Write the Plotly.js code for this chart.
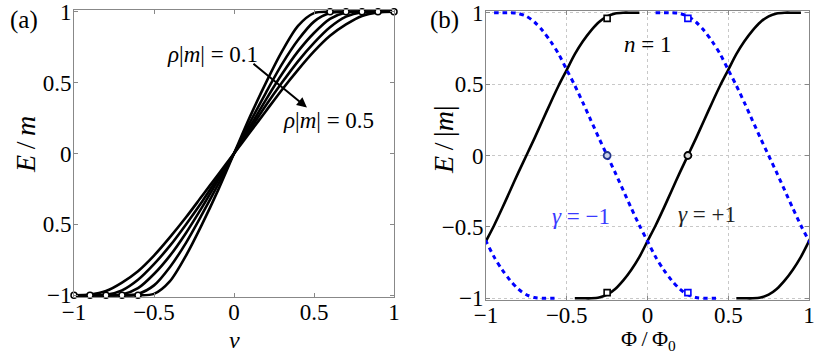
<!DOCTYPE html>
<html>
<head>
<meta charset="utf-8">
<script src="https://cdn.plot.ly/plotly-3.0.1.min.js"></script>
<style>
  body { margin: 0; background: #fff; }
  #chart { width: 830px; height: 355px; }
</style>
</head>
<body>
<div id="chart"></div>
<script>
// panel (a): E/m against nu (positive half, curve is odd)
var nu = [0, 0.1, 0.2, 0.3, 0.4, 0.5, 0.6, 0.7, 0.8, 0.9, 1.0];
var E_rho01 = [0, 0.26, 0.50, 0.72, 0.90, 0.99, 1, 1, 1, 1, 1];
var E_rho02 = [0, 0.22, 0.43, 0.63, 0.80, 0.93, 0.99, 1, 1, 1, 1];
var E_rho03 = [0, 0.19, 0.38, 0.56, 0.72, 0.85, 0.95, 0.995, 1, 1, 1];
var E_rho04 = [0, 0.17, 0.34, 0.50, 0.65, 0.78, 0.89, 0.965, 0.997, 1, 1];
var E_rho05 = [0, 0.15, 0.30, 0.45, 0.59, 0.72, 0.83, 0.91, 0.97, 0.995, 1];
var nuEdge = [0.6, 0.7, 0.8, 0.9, 1.0];

// panel (b): one branch shape, E against offset u from the branch centre
var uShape = [0, 0.05, 0.1, 0.15, 0.2, 0.25, 0.3, 0.35, 0.4, 0.45, 0.5, 0.55, 0.6, 0.65, 0.7];
var fShape = [0, 0.12, 0.245, 0.37, 0.49, 0.60, 0.71, 0.80, 0.875, 0.935, 0.975, 0.995, 1, 1, 1];
var plusCentres = [-0.75, 0.25, 1.25];   // gamma = +1, rising
var minusCentres = [-1.25, -0.25, 0.75]; // gamma = -1, falling
var circlePlus = [0.25, 0];
var circleMinus = [-0.25, 0];
var squarePlusX = [-0.25, -0.25], squarePlusY = [0.96, -0.96];
var squareMinusX = [0.25, 0.25], squareMinusY = [0.96, -0.96];

var serif = '"Liberation Serif", serif';
var traces = [];

// odd extension of a positive half
function full(xs, ys) {
  var x = [], y = [];
  for (var i = xs.length - 1; i > 0; i--) { x.push(-xs[i]); y.push(-ys[i]); }
  for (var j = 0; j < xs.length; j++) { x.push(xs[j]); y.push(ys[j]); }
  return {x: x, y: y};
}

[E_rho01, E_rho02, E_rho03, E_rho04, E_rho05].forEach(function(E) {
  var c = full(nu, E);
  traces.push({x: c.x, y: c.y, mode: 'lines', line: {color: '#000', width: 2.6, shape: 'spline', smoothing: 0.8},
    xaxis: 'x', yaxis: 'y', hoverinfo: 'skip'});
});

var edgeX = nuEdge.concat(nuEdge.map(function(v) { return -v; }));
var edgeY = nuEdge.map(function() { return 1; }).concat(nuEdge.map(function() { return -1; }));
traces.push({x: edgeX, y: edgeY, mode: 'markers', cliponaxis: false,
  marker: {symbol: 'circle', size: 6, color: '#fff', line: {color: '#000', width: 1.5}},
  xaxis: 'x', yaxis: 'y'});

var branch = full(uShape, fShape);
plusCentres.forEach(function(c) {
  traces.push({x: branch.x.map(function(u) { return c + u; }), y: branch.y,
    mode: 'lines', line: {color: '#000', width: 2.6, shape: 'spline', smoothing: 0.8},
    xaxis: 'x2', yaxis: 'y2'});
});
minusCentres.forEach(function(c) {
  traces.push({x: branch.x.map(function(u) { return c + u; }), y: branch.y.map(function(v) { return -v; }),
    mode: 'lines', line: {color: '#0000ff', width: 3, dash: '4.5px,4px', shape: 'spline', smoothing: 0.8},
    xaxis: 'x2', yaxis: 'y2'});
});

traces.push({x: squarePlusX, y: squarePlusY, mode: 'markers', cliponaxis: false,
  marker: {symbol: 'square', size: 6, color: '#fff', line: {color: '#000', width: 1.6}}, xaxis: 'x2', yaxis: 'y2'});
traces.push({x: squareMinusX, y: squareMinusY, mode: 'markers', cliponaxis: false,
  marker: {symbol: 'square', size: 6, color: '#fff', line: {color: '#0000ff', width: 1.6}}, xaxis: 'x2', yaxis: 'y2'});
traces.push({x: [circlePlus[0]], y: [circlePlus[1]], mode: 'markers',
  marker: {symbol: 'circle', size: 7, color: '#d8d8d8', line: {color: '#000', width: 1.8}}, xaxis: 'x2', yaxis: 'y2'});
traces.push({x: [circleMinus[0]], y: [circleMinus[1]], mode: 'markers',
  marker: {symbol: 'circle', size: 7, color: '#c8d0ea', line: {color: '#22358a', width: 1.8}}, xaxis: 'x2', yaxis: 'y2'});

var tickVals = [-1, -0.5, 0, 0.5, 1];
var axisBase = {
  showline: true, linecolor: '#888', linewidth: 1, mirror: 'ticks',
  ticks: 'inside', ticklen: 4, tickcolor: '#888', zeroline: false,
  ticklabeloverflow: 'allow',
  tickfont: {family: serif, size: 23, color: '#000'}, tickvals: tickVals
};
function ax(extra) { return Object.assign({}, axisBase, extra); }

function note(x, y, text, size, extra) {
  return Object.assign({xref: 'paper', yref: 'paper', x: x / 830, y: 1 - y / 355, text: text,
    showarrow: false, xanchor: 'center', yanchor: 'middle', font: {family: serif, size: size, color: '#000'}}, extra || {});
}
function label(axes, x, y, text, color) {
  return {xref: 'x' + axes, yref: 'y' + axes, x: x, y: y, text: text, showarrow: false,
    xanchor: 'center', yanchor: 'middle', font: {family: serif, size: 23, color: color || '#000'}};
}

var layout = {
  width: 830, height: 355,
  margin: {l: 0, r: 0, t: 0, b: 0},
  paper_bgcolor: '#fff', plot_bgcolor: '#fff',
  showlegend: false,
  font: {family: serif, color: '#000'},
  xaxis: ax({domain: [74 / 830, 394 / 830], range: [-1, 1], showgrid: false, ticklabelstandoff: -6,
    ticktext: ['\u22121', '\u22120.5', '0', '0.5', '1'], anchor: 'y'}),
  yaxis: ax({domain: [58 / 355, 345 / 355], range: [-1.012, 1.012], showgrid: false, ticklabelstandoff: -3,
    ticktext: ['\u22121', '0.5', '0', '0.5', '1'], anchor: 'x'}),
  xaxis2: ax({domain: [486 / 830, 809 / 830], range: [-1, 1], showgrid: true, ticklabelstandoff: -6,
    gridcolor: '#c8c8c8', griddash: 'dot', gridwidth: 1,
    ticktext: ['\u22121', '\u22120.5', '0', '0.5', '1'], anchor: 'y2'}),
  yaxis2: ax({domain: [55 / 355, 344 / 355], range: [-1.012, 1.012], showgrid: true, ticklabelstandoff: -3,
    gridcolor: '#c8c8c8', griddash: 'dot', gridwidth: 1,
    ticktext: ['\u22121', '\u22120.5', '0', '0.5', '1'], anchor: 'x2'}),
  annotations: [
    note(24, 20, '(a)', 25),
    note(444, 20, '(b)', 25),
    note(25, 145, '<i>E</i>\u2009/\u2009<i>m</i>', 28, {textangle: -90}),
    note(444, 140, '<i>E</i>\u2009/\u2009|<i>m</i>|', 28, {textangle: -90}),
    note(234, 340, '<i>\u03bd</i>', 24),
    note(648, 340, '\u03a6\u2009/\u2009\u03a6<sub>0</sub>', 22),
    label('', -0.1375, 0.70, '<i>\u03c1</i>|<i>m</i>| = 0.1'),
    label('', 0.5875, 0.233, '<i>\u03c1</i>|<i>m</i>| = 0.5'),
    {xref: 'x', yref: 'y', x: 0.456, y: 0.324, ax: -55, ay: -45, text: '', showarrow: true,
      arrowhead: 2, arrowsize: 1, arrowwidth: 2, arrowcolor: '#000'},
    label('2', 0.003, 0.78, '<i>n</i> = 1'),
    label('2', -0.41, -0.43, '<i>\u03b3</i> = \u22121', '#3a3aff'),
    label('2', 0.37, -0.41, '<i>\u03b3</i> = +1', '#222')
  ]
};

Plotly.newPlot('chart', traces, layout, {staticPlot: true});
</script>
</body>
</html>
